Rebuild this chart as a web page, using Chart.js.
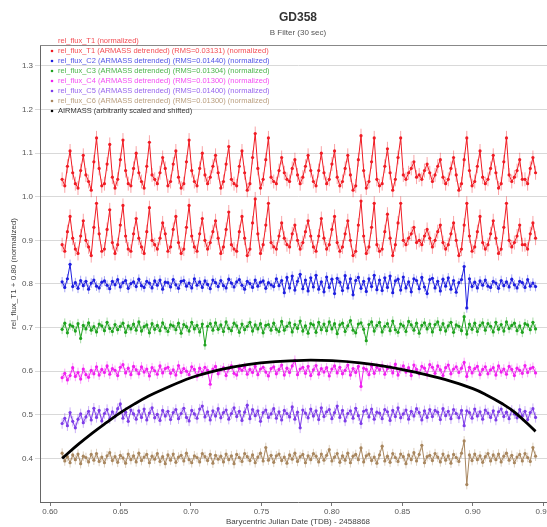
<!DOCTYPE html>
<html>
<head>
<meta charset="utf-8">
<script src="https://cdn.jsdelivr.net/npm/chart.js@4.4.0/dist/chart.umd.min.js"></script>
<style>
  html, body { margin: 0; padding: 0; background: #fff; overflow: hidden; }
  #wrap { width: 560px; height: 527px; }
</style>
</head>
<body>
<div id="wrap"><canvas id="lc"></canvas></div>
<script>
// --- data (values in thousandths around each series' level) ---
const nPts = 180;
const tStart = 0.6086;   // BJD - 2458868
const tEnd = 0.9445;
const xTicks = [0.60, 0.65, 0.70, 0.75, 0.80, 0.85, 0.90, 0.95];
const yTicks = [0.4, 0.5, 0.6, 0.7, 0.8, 0.9, 1.0, 1.1, 1.2, 1.3];

const legendLabels = [
  'rel_flux_T1 (normalized)',
  'rel_flux_T1 (ARMASS detrended) (RMS=0.03131) (normalized)',
  'rel_flux_C2 (ARMASS detrended) (RMS=0.01440) (normalized)',
  'rel_flux_C3 (ARMASS detrended) (RMS=0.01304) (normalized)',
  'rel_flux_C4 (ARMASS detrended) (RMS=0.01300) (normalized)',
  'rel_flux_C5 (ARMASS detrended) (RMS=0.01400) (normalized)',
  'rel_flux_C6 (ARMASS detrended) (RMS=0.01300) (normalized)',
  'AIRMASS (arbitrarily scaled and shifted)'
];
const seriesLevel = [1.05, 0.90, 0.80, 0.70, 0.60, 0.50, 0.40];
const seriesErr = [0.016, 0.016, 0.011, 0.011, 0.011, 0.012, 0.011];

// target star, pulsating
const t1Dev = [
  -10,-25,20,55,5, -20,-30,10,45,0, -15,-35,30,85,15, -25,-20,25,70,-5,
  -30,-10,35,80,10, -20,-25,15,50,5, -15,-30,20,75,0, -10,-20,5,40,15,
  -25,-15,25,55,-5, -30,-20,30,80,10, -15,-25,15,50,0, -20,-5,20,45,5,
  -30,-15,25,65,-10, -20,-25,20,55,5, -35,-20,40,95,15, -30,-10,35,85,-5,
  -15,-20,10,40,5, -10,-15,15,35,0, -20,-5,20,45,10, -15,-25,10,50,5,
  -20,-10,25,55,-5, -25,-15,15,45,0, -35,-25,35,90,10, -30,-15,30,85,-10,
  -25,-20,20,60,5, -35,-10,40,85,0, -10,5,15,30,-5, 0,-10,10,25,5,
  -15,0,20,35,-5, -20,-10,15,40,0, -35,-20,35,85,10, -25,-15,20,55,-5,
  -20,-10,15,45,5, -30,-20,30,85,0, -15,-5,10,35,-10, -10,-20,15,40,5
];
const c2Dev = [
  5,-8,12,45,-6,3,-10,8,-4,6,-12,2,9,-5,-9,4,7,-3,-11,6,
  -2,10,-7,3,8,-10,1,5,-6,11,-4,-8,6,2,-9,7,-3,9,-12,4,
  3,-7,10,-2,-10,6,8,-5,2,-9,12,-3,5,-8,7,-1,-11,9,3,-6,
  8,-4,-9,11,2,-7,5,10,-3,-12,6,1,-8,9,-5,4,7,-10,3,-2,
  -6,12,-4,8,-20,15,-9,18,-14,6,22,-11,9,-16,14,-7,20,-12,5,-18,
  16,-8,11,-22,13,4,-15,19,-9,12,-25,8,15,-10,6,-17,12,-6,20,-13,
  9,-15,14,-8,18,-20,7,11,-14,16,-9,5,-18,12,8,-11,15,-7,-22,10,
  13,-9,6,-16,11,-5,14,-12,8,-19,3,10,40,-55,12,-6,4,-9,7,-3,
  9,-5,-8,6,2,-10,8,-4,5,-7,11,-2,-9,6,3,-8,10,-5,2,-6
];
const c3Dev = [
  -4,10,-12,6,3,-8,9,-25,5,-3,11,-6,2,-10,8,4,-7,12,-2,-9,
  7,-5,3,10,-11,4,-3,8,-6,13,-8,2,6,-12,9,-4,5,-7,11,-1,
  -9,6,4,-5,10,-13,7,2,-8,12,-3,5,-10,8,-40,3,9,-6,11,-4,
  6,-9,13,-2,-7,10,4,-11,8,-5,3,12,-8,6,-3,9,-12,5,7,-6,
  10,-4,-9,14,-6,3,11,-10,7,-2,15,-8,4,-13,9,6,-11,12,-5,8,
  -7,13,-3,9,-14,6,10,-9,4,16,-6,-12,8,11,-4,-30,7,13,-8,5,
  12,-10,3,9,-7,15,-5,-11,8,4,-9,14,6,-6,10,-13,5,11,-3,8,
  -10,7,13,-5,9,-8,4,12,-11,6,3,-7,25,-15,8,-4,10,-9,5,11,
  -6,9,3,-10,12,-4,7,-8,13,-2,5,10,-7,4,-11,9,6,-5,12,-3
];
const c4Dev = [
  -15,-5,-20,-10,8,-12,-3,-18,5,-8,-14,2,-6,10,-9,4,-3,12,-7,6,
  2,-10,9,15,-4,7,-8,11,3,-6,10,-2,5,-11,8,1,-7,12,-4,6,
  9,-5,3,-9,13,-3,6,0,-8,10,4,-12,7,-4,9,2,-30,5,11,-6,
  3,8,-10,6,12,-5,-9,7,2,10,-7,4,-3,11,-8,5,9,-2,-11,6,
  10,-6,4,14,-9,7,-3,12,25,-8,5,9,-5,11,-10,3,13,-7,6,-2,
  8,-11,5,12,-4,9,-6,2,14,-9,6,-3,11,-35,7,4,-8,12,-5,9,
  3,13,-7,6,10,-4,16,-9,5,12,-2,8,-10,14,4,-6,11,7,-8,15,
  9,-5,12,3,-10,8,14,-6,5,10,-3,7,20,-12,9,-4,6,11,-8,4,
  10,-6,3,8,-9,12,-2,5,-7,11,4,-10,7,2,-5,13,-3,6,9,-4
];
const c5Dev = [
  -20,-8,-25,5,-15,-30,-10,2,-18,-5,8,-12,15,-6,10,-14,3,12,-9,7,
  -4,14,25,-8,6,-15,11,2,-10,9,-6,13,-12,4,16,-7,1,-13,10,-3,
  8,-11,5,12,-9,3,15,-6,-14,10,2,-8,13,20,-5,7,-12,9,-3,14,
  -7,5,11,-10,3,16,-4,8,-13,6,22,-9,12,-2,9,-15,5,11,-6,2,
  14,-8,7,-12,10,3,-5,18,-10,6,-30,11,4,-7,13,-3,9,-11,16,-4,
  7,12,-9,5,20,-6,10,-14,3,9,-8,15,-2,-20,8,11,-5,13,-10,6,
  4,-9,12,7,-13,10,-4,16,-7,2,11,-10,8,-3,14,5,-12,9,-6,12,
  -4,10,6,-11,14,-2,8,-9,12,3,-7,10,-25,9,5,-8,13,-3,7,-10,
  11,4,-6,9,-12,7,13,-4,6,-9,10,2,-7,12,-3,8,-11,5,14,-6
];
const c6Dev = [
  12,-6,4,-10,8,-3,10,-12,5,2,-8,9,-4,11,-7,3,-10,6,13,-5,
  4,-9,7,1,-11,10,-3,6,-8,12,-5,3,9,-10,5,-2,11,-7,4,-12,
  8,-4,10,-9,3,7,-6,12,-3,-10,6,2,-8,11,4,-5,9,-11,7,-2,
  5,-8,10,-3,6,-12,9,2,-7,11,4,-5,8,-10,3,12,-6,25,-4,7,
  -9,6,10,-5,3,-11,8,-2,12,-7,4,9,-10,6,-3,11,5,-8,10,-4,
  7,20,-6,3,11,-9,6,-4,12,-10,5,9,-3,24,-8,6,10,-5,3,-11,
  8,28,-6,5,-9,11,2,-7,10,4,-12,8,-3,13,-6,9,30,-10,4,7,
  -5,11,3,-8,10,-4,6,-11,9,2,-7,12,40,-60,8,-5,10,-3,6,-9,
  4,11,-6,8,-3,10,-8,5,12,-4,7,-10,3,9,-6,11,2,-7,25,5
];

const airmassT = [0.6086, 0.62, 0.63, 0.64, 0.65, 0.66, 0.67, 0.68, 0.70, 0.72, 0.74, 0.76,
                  0.78, 0.80, 0.82, 0.84, 0.86, 0.88, 0.90, 0.91, 0.92, 0.93, 0.9445];
const airmassVal = [0.400, 0.432, 0.458, 0.482, 0.505, 0.525, 0.543, 0.558, 0.585, 0.603, 0.615, 0.622,
                    0.625, 0.624, 0.619, 0.610, 0.597, 0.581, 0.560, 0.545, 0.527, 0.505, 0.462];

const seriesColors = ['#f01c24', '#f01c24', '#1f1fe0', '#1fa31f', '#f020f0', '#7d3ce8', '#a8865e'];
const fontFam = '"Liberation Sans", Arial, sans-serif';

// cadence times
const cadence = (tEnd - tStart) / (nPts - 1);
const times = [];
for (let i = 0; i < nPts; i++) times.push(tStart + i * cadence);

const devs = [t1Dev, t1Dev, c2Dev, c3Dev, c4Dev, c5Dev, c6Dev];

const datasets = devs.map((dev, k) => ({
  label: legendLabels[k],
  data: dev.map((d, i) => ({ x: times[i], y: seriesLevel[k] + d / 1000 })),
  borderColor: seriesColors[k],
  backgroundColor: seriesColors[k],
  borderWidth: 1,
  pointRadius: 1.6,
  pointBorderWidth: 0,
  errHalf: seriesErr[k],
  order: 1
}));
datasets.push({
  label: legendLabels[7],
  data: airmassT.map((t, i) => ({ x: t, y: airmassVal[i] })),
  borderColor: '#000',
  borderWidth: 2.8,
  pointRadius: 0,
  tension: 0.4,
  order: 0
});

// vertical error bars for the photometry points
const errorBarPlugin = {
  id: 'errorBars',
  beforeDatasetDraw(chart, args) {
    const ds = chart.data.datasets[args.index];
    if (!ds.errHalf) return;
    const ctx = chart.ctx, ys = chart.scales.y;
    ctx.save();
    ctx.strokeStyle = ds.borderColor;
    ctx.globalAlpha = 0.5;
    ctx.lineWidth = 0.8;
    ctx.beginPath();
    args.meta.data.forEach((pt, i) => {
      const v = ds.data[i].y;
      ctx.moveTo(pt.x, ys.getPixelForValue(v + ds.errHalf));
      ctx.lineTo(pt.x, ys.getPixelForValue(v - ds.errHalf));
    });
    ctx.stroke();
    ctx.restore();
  }
};

// legend inside the plot (top left) + top frame line
const innerLegend = {
  id: 'innerLegend',
  afterDraw(chart) {
    const ctx = chart.ctx, area = chart.chartArea;
    ctx.save();
    ctx.strokeStyle = '#888';
    ctx.lineWidth = 1;
    ctx.beginPath();
    ctx.moveTo(area.left, area.top + 0.5);
    ctx.lineTo(area.right, area.top + 0.5);
    ctx.stroke();

    ctx.font = '7.5px ' + fontFam;
    ctx.textBaseline = 'middle';
    const dsets = chart.data.datasets;
    legendLabels.forEach((txt, i) => {
      const y = area.top - 4 + i * 10;
      const col = dsets[i].borderColor;
      ctx.fillStyle = col;
      if (i > 0) {
        ctx.beginPath();
        ctx.arc(area.left + 12, y, 1.3, 0, Math.PI * 2);
        ctx.fill();
      }
      ctx.globalAlpha = 0.8;
      ctx.fillText(txt, area.left + 18, y);
      ctx.globalAlpha = 1;
    });
    ctx.restore();
  }
};

new Chart(document.getElementById('lc'), {
  type: 'line',
  data: { datasets: datasets },
  plugins: [errorBarPlugin, innerLegend],
  options: {
    responsive: true,
    maintainAspectRatio: false,
    animation: false,
    layout: { padding: { left: 0, right: 0, top: 0, bottom: 0 } },
    scales: {
      x: {
        type: 'linear',
        min: 0.5929,
        max: 0.9590,
        afterBuildTicks: (s) => { s.ticks = xTicks.map(v => ({ value: v })); },
        afterFit: (s) => { s.height = 25; },
        grid: { drawOnChartArea: false, tickLength: 4, color: '#777' },
        border: { color: '#666' },
        ticks: { font: { size: 8, family: fontFam }, color: '#555', padding: 1,
                 maxRotation: 0, callback: (v) => v.toFixed(2) },
        title: { display: true, text: 'Barycentric Julian Date (TDB) - 2458868',
                 font: { size: 8, family: fontFam }, color: '#444', padding: 0 }
      },
      y: {
        min: 0.30,
        max: 1.348,
        afterBuildTicks: (s) => { s.ticks = yTicks.map(v => ({ value: v })); },
        afterFit: (s) => { s.width = 40; },
        grid: { color: '#d9d9d9', tickLength: 5 },
        border: { color: '#666' },
        ticks: { font: { size: 8, family: fontFam }, color: '#555', padding: 2,
                 callback: (v) => v.toFixed(1) },
        title: { display: true, text: 'rel_flux_T1 + 0.80 (normalized)',
                 font: { size: 8, family: fontFam }, color: '#444', padding: { top: 9, bottom: 0 } }
      }
    },
    plugins: {
      legend: { display: false },
      tooltip: { enabled: false },
      title: { display: true, text: 'GD358', fullSize: false, color: '#333',
               font: { size: 12, weight: 'bold', family: fontFam }, padding: { top: 10, bottom: 2 } },
      subtitle: { display: true, text: 'B Filter (30 sec)', fullSize: false, color: '#555',
                  font: { size: 8, family: fontFam }, padding: { top: 2, bottom: 7 } }
    }
  }
});
</script>
</body>
</html>
